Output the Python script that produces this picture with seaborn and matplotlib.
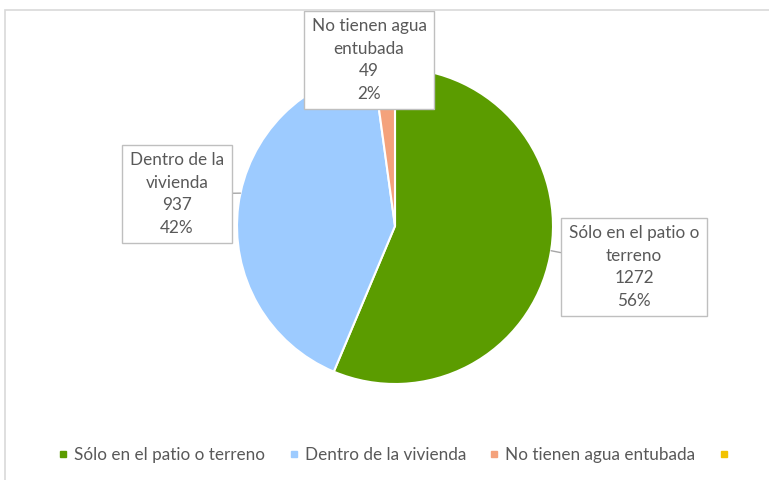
import matplotlib.pyplot as plt
import numpy as np
import seaborn as sns
from matplotlib.lines import Line2D
from matplotlib.patches import Rectangle

# ── Data ──────────────────────────────────────────────────────────────────────
categories = ["Sólo en el patio o terreno", "Dentro de la vivienda", "No tienen agua entubada"]
box_labels = ["Sólo en el patio o\nterreno", "Dentro de la\nvivienda", "No tienen agua\nentubada"]
values = [1272, 937, 49]
percents = [56, 42, 2]
colors = ["#5B9C00", "#9DCBFF", "#F4A27C"]
extra_color = "#F2C200"   # empty 4th legend entry

sns.set_theme(style="white")
plt.rcParams["font.family"] = ["Lato", "DejaVu Sans"]
text_grey = "#595959"

W, H = 769, 480
fig = plt.figure(figsize=(W / 100, H / 100), dpi=100)
fig.patch.set_facecolor("white")

# outer chart border
fig.patches.append(Rectangle((5, -10), 800, H - 10 + 10, transform=None,
                             fill=False, ec="#D9D9D9", lw=1.2))

# ── Pie ───────────────────────────────────────────────────────────────────────
cx, cy, r = 395, 226, 158
ax = fig.add_axes([(cx - r) / W, (H - cy - r) / H, 2 * r / W, 2 * r / H])
ax.pie(values, colors=colors, startangle=90, counterclock=False, radius=1,
       wedgeprops=dict(edgecolor="white", linewidth=1.5))
ax.set_xlim(-1, 1)
ax.set_ylim(-1, 1)
ax.axis("off")

# ── Data labels ───────────────────────────────────────────────────────────────
label_pos = [(634, 213), (177, 286), (369, 420)]   # figure pixels
anchor_deg = [-9, 168, 93]
show_leader = [True, True, False]

for name, val, pct, pos, ang, lead in zip(box_labels, values, percents,
                                          label_pos, anchor_deg, show_leader):
    a = np.deg2rad(ang)
    ax.annotate(f"{name}\n{val}\n{pct}%",
                xy=(np.cos(a), np.sin(a)), xycoords="data",
                xytext=pos, textcoords="figure pixels",
                ha="center", va="center", multialignment="center",
                fontsize=12.3, color=text_grey, linespacing=1.5,
                bbox=dict(boxstyle="square,pad=0.45", fc="white",
                          ec="#BFBFBF", lw=1),
                arrowprops=dict(arrowstyle="-", color="#A6A6A6", lw=1,
                                shrinkA=0, shrinkB=0) if lead else None,
                zorder=5, annotation_clip=False)

# ── Legend ────────────────────────────────────────────────────────────────────
handles = [Line2D([], [], marker="s", ls="", color=c, markersize=5)
           for c in colors + [extra_color]]
fig.legend(handles, categories + [""], loc="center",
           bbox_to_anchor=(0.515, (H - 455) / H), ncol=4, frameon=False,
           fontsize=12.3, labelcolor=text_grey, handlelength=0.7,
           handletextpad=0.3, columnspacing=1.3)

fig.savefig("out.png", dpi=100)
